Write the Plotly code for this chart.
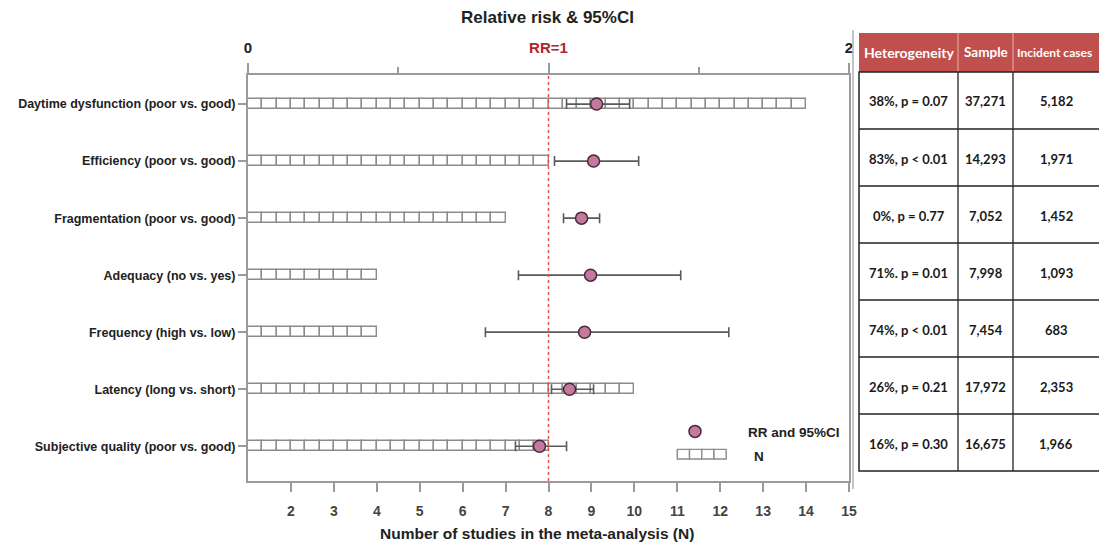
import plotly.graph_objects as go

# ---------------- data ----------------
categories = [
    "Daytime dysfunction (poor vs. good)",
    "Efficiency (poor vs. good)",
    "Fragmentation (poor vs. good)",
    "Adequacy (no vs. yes)",
    "Frequency (high vs. low)",
    "Latency (long vs. short)",
    "Subjective quality (poor vs. good)",
]
n_studies = [14, 8, 7, 4, 4, 10, 8]
rr = [1.16, 1.15, 1.11, 1.14, 1.12, 1.07, 0.97]
rr_low = [1.06, 1.02, 1.05, 0.90, 0.79, 1.01, 0.89]
rr_high = [1.27, 1.30, 1.17, 1.44, 1.60, 1.15, 1.06]

table_header = ["Heterogeneity", "Sample", "Incident cases"]
heterogeneity = ["38%, p = 0.07", "83%, p < 0.01", "0%, p = 0.77", "71%. p = 0.01",
                 "74%, p < 0.01", "26%, p = 0.21", "16%, p = 0.30"]
sample = ["37,271", "14,293", "7,052", "7,998", "7,454", "17,972", "16,675"]
incident = ["5,182", "1,971", "1,452", "1,093", "683", "2,353", "1,966"]

bottom_ticks = list(range(2, 16))
top_tickvals = [0, 1, 2]
top_ticktext = ["0", "<span style='color:#B0242A'>RR=1</span>", "2"]

# ---------------- geometry (styles) ----------------
W, H = 1099, 542
L, R, T, B = 248, 849, 75, 481
FONT = "Liberation Sans, Arial, sans-serif"
TFONT = "Lato, Open Sans, sans-serif"
AX = "#9a9a9a"


def pxx(x):
    return (x - L) / (R - L)


def pxy(y):
    return (B - y) / (B - T)


fig = go.Figure()

# bars made of small squares (3 squares per study unit)
ys, xs, bases = [], [], []
for i, n in enumerate(n_studies):
    count = int(round((n - 1) * 3))
    for k in range(count):
        ys.append(i)
        xs.append(1 / 3)
        bases.append(1 + k / 3)
fig.add_trace(go.Bar(
    orientation="h", y=ys, x=xs, base=bases, width=0.17,
    marker=dict(color="white", line=dict(color="#8c8c8c", width=1.4)),
    xaxis="x", yaxis="y", showlegend=False, hoverinfo="skip",
))

# RR with CI
fig.add_trace(go.Scatter(
    x=rr, y=list(range(len(categories))), mode="markers",
    marker=dict(size=12, color="#C47A9F", line=dict(color="#4a2a3a", width=1.5)),
    error_x=dict(type="data", symmetric=False,
                 array=[h - r for h, r in zip(rr_high, rr)],
                 arrayminus=[r - lo for r, lo in zip(rr, rr_low)],
                 color="#5a5a5a", thickness=1.6, width=5),
    xaxis="x2", yaxis="y", showlegend=False, hoverinfo="skip",
))

# legend marker
fig.add_trace(go.Scatter(
    x=[1.4875], y=[5.74], mode="markers",
    marker=dict(size=12, color="#C47A9F", line=dict(color="#4a2a3a", width=1.5)),
    xaxis="x2", yaxis="y", showlegend=False, hoverinfo="skip",
))

shapes = []
annotations = []


def txt(x, y, text, size, color="#222", family=FONT, xanchor="center"):
    annotations.append(dict(xref="paper", yref="paper", x=pxx(x), y=pxy(y),
                            text=text, showarrow=False, xanchor=xanchor,
                            yanchor="middle",
                            font=dict(family=family, size=size, color=color)))


# legend squares
for k in range(4):
    shapes.append(dict(type="rect", xref="x", yref="y",
                       x0=11 + k * 0.285, x1=11 + (k + 1) * 0.285,
                       y0=6.14 - 0.085, y1=6.14 + 0.085,
                       line=dict(color="#8c8c8c", width=1.4), fillcolor="white"))
txt(746, 432, "<b>RR and 95%CI</b>", 13.5, xanchor="left")
txt(752, 456, "<b>N</b>", 13.5, xanchor="left")

# RR = 1 dotted line
shapes.append(dict(type="line", xref="x2", yref="paper", x0=1, x1=1, y0=0, y1=1,
                   line=dict(color="#E05555", width=1.5, dash="dot")))

# titles
txt(547, 17, "<b>Relative risk & 95%CI</b>", 17)
txt(537, 533, "<b>Number of studies in the meta-analysis (N)</b>", 15.5)

# ---------------- table ----------------
col_edges = [859, 958, 1013, 1120]
head_top, body_top, row_h = 33, 72, 57
nrows = len(categories)
body_bottom = body_top + row_h * nrows

# outer gray frame line
shapes.append(dict(type="line", xref="paper", yref="paper",
                   x0=pxx(853), x1=pxx(853), y0=pxy(30), y1=pxy(489),
                   line=dict(color="#b0b0b0", width=1.5)))
# header fill
shapes.append(dict(type="rect", xref="paper", yref="paper",
                   x0=pxx(col_edges[0]), x1=pxx(col_edges[-1]),
                   y0=pxy(body_top), y1=pxy(head_top),
                   line=dict(width=0), fillcolor="#C0504D"))
for ce in col_edges[1:-1]:
    shapes.append(dict(type="line", xref="paper", yref="paper",
                       x0=pxx(ce), x1=pxx(ce), y0=pxy(body_top), y1=pxy(head_top),
                       line=dict(color="#E8B0AE", width=1)))
# body borders
shapes.append(dict(type="rect", xref="paper", yref="paper",
                   x0=pxx(col_edges[0]), x1=pxx(col_edges[-1]),
                   y0=pxy(body_bottom), y1=pxy(body_top),
                   line=dict(color="#222", width=1.5), fillcolor="rgba(0,0,0,0)"))
for r in range(1, nrows):
    yy = body_top + r * row_h
    shapes.append(dict(type="line", xref="paper", yref="paper",
                       x0=pxx(col_edges[0]), x1=pxx(col_edges[-1]),
                       y0=pxy(yy), y1=pxy(yy), line=dict(color="#222", width=1.3)))
for ce in col_edges[1:-1]:
    shapes.append(dict(type="line", xref="paper", yref="paper",
                       x0=pxx(ce), x1=pxx(ce), y0=pxy(body_bottom), y1=pxy(body_top),
                       line=dict(color="#222", width=1.3)))

# header texts
head_mid = (head_top + body_top) / 2
txt((col_edges[0] + col_edges[1]) / 2, head_mid, "<b>%s</b>" % table_header[0], 14,
    color="white", family=TFONT)
txt((col_edges[1] + col_edges[2]) / 2, head_mid, "<b>%s</b>" % table_header[1], 13.5,
    color="white", family=TFONT)
txt(col_edges[2] + 2, head_mid, "<b>%s</b>" % table_header[2], 12,
    color="white", family=TFONT, xanchor="left")

body_x = [(col_edges[0] + col_edges[1]) / 2, (col_edges[1] + col_edges[2]) / 2, 1056]
for r in range(nrows):
    yc = body_top + r * row_h + row_h / 2 + 1
    for j, col in enumerate([heterogeneity, sample, incident]):
        txt(body_x[j], yc, "<b>%s</b>" % col[r], 13, color="#1a1a1a", family=TFONT)

fig.update_layout(
    width=W, height=H,
    margin=dict(l=L, r=W - R, t=T, b=H - B, pad=0, autoexpand=False),
    paper_bgcolor="white", plot_bgcolor="white",
    showlegend=False, barmode="overlay", bargap=0,
    font=dict(family=FONT, color="#222"),
    xaxis=dict(range=[1, 15], tickvals=bottom_ticks, ticks="outside", ticklen=9,
               tickcolor=AX, tickwidth=1.5, showline=True, linecolor=AX, linewidth=2,
               showgrid=False, zeroline=False, ticklabelstandoff=7, automargin=False,
               tickfont=dict(family=FONT, size=14, color="#444", weight="bold")),
    xaxis2=dict(range=[0, 2], overlaying="x", side="top", anchor="y",
                tickvals=top_tickvals, ticktext=top_ticktext, ticks="outside",
                ticklen=10, tickcolor=AX, tickwidth=1.5, ticklabelstandoff=4,
                automargin=False,
                minor=dict(dtick=0.5, tick0=0, ticklen=6, tickcolor=AX, tickwidth=1.5,
                           ticks="outside", showgrid=False),
                showline=True, linecolor=AX, linewidth=2, showgrid=False, zeroline=False,
                tickfont=dict(family=FONT, size=15, color="#222", weight="bold")),
    yaxis=dict(range=[6.61, -0.51], tickvals=list(range(len(categories))),
               ticktext=categories, ticks="outside", ticklen=8, tickcolor=AX,
               tickwidth=1.5, showline=True, mirror=True, linecolor=AX, linewidth=2,
               showgrid=False, zeroline=False, automargin=False,
               tickfont=dict(family=FONT, size=12.5, color="#222", weight="bold")),
    shapes=shapes, annotations=annotations,
)

fig.write_html("out.html", config={"displayModeBar": False},
               post_script="document.body.style.margin='0';"
                           "document.body.style.overflow='hidden';")
